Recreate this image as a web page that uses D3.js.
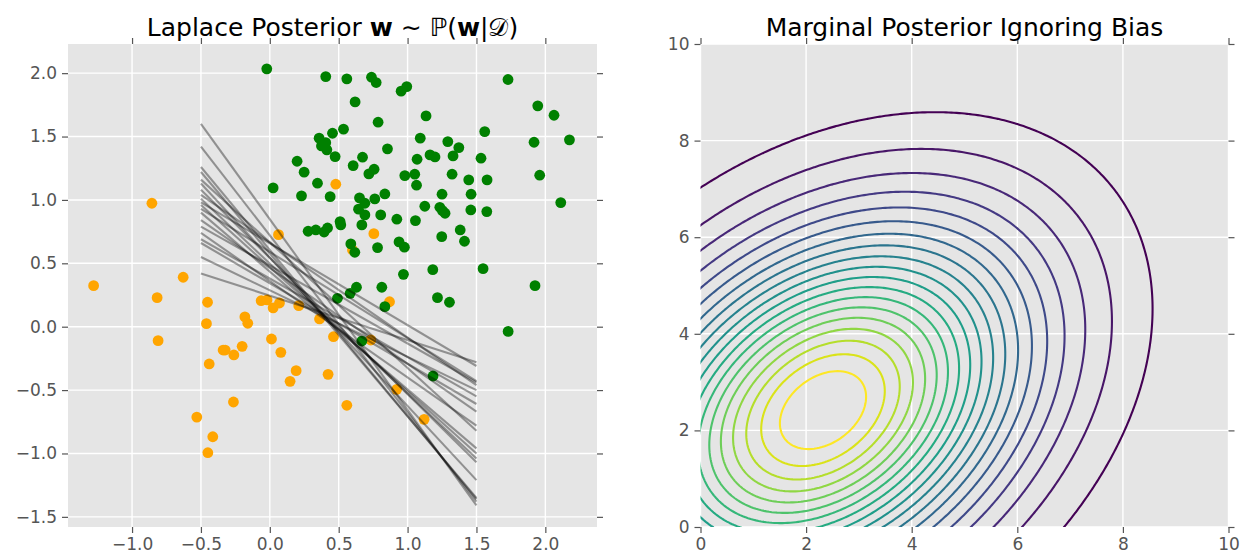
<!DOCTYPE html>
<html>
<head>
<meta charset="utf-8">
<script src="https://cdn.jsdelivr.net/npm/d3@7"></script>
<style>
body { margin: 0; background: #fff; }
text { font-family: "DejaVu Sans", sans-serif; }
</style>
</head>
<body>
<svg id="chart" width="1240" height="556"></svg>
<script>
// ---- data ----
var orangeX = [-1.279, -0.629, -0.818, -0.811, -0.452, -0.460, -0.063, -0.020, 0.070, 0.024,
               0.210, -0.181, -0.160, 0.361, 0.012, 0.462, -0.339, -0.324, -0.201, -0.261,
               0.080, -0.440, 0.191, 0.147, 0.423, -0.264, -0.530, -0.414, -0.450, 0.559,
               0.733, 0.869, 0.921, 1.120, -0.856, 0.063, 0.479, 0.755, 0.600];
var orangeY = [0.324, 0.390, 0.229, -0.110, 0.193, 0.024, 0.205, 0.211, 0.187, 0.148,
               0.166, 0.077, 0.027, 0.061, -0.097, -0.079, -0.184, -0.184, -0.155, -0.223,
               -0.202, -0.294, -0.347, -0.431, -0.376, -0.594, -0.713, -0.868, -0.994, -0.620,
               -0.105, 0.197, -0.494, -0.731, 0.974, 0.726, 1.124, 0.734, 0.605];

var greenX = [0.406, 0.559, 0.738, 0.772, 0.953, 0.994, 1.729, 0.619, 1.134, 1.945,
              2.063, 0.786, 0.535, 0.455, 0.358, 0.406, 0.375, 0.414, 0.474, 0.673,
              0.854, 1.092, 1.292, 1.372, 1.560, 2.175, 1.918, 1.163, 1.199, 1.330,
              1.069, 1.533, 0.605, 0.249, 0.757, 0.719, 0.980, 1.052, 1.323, 1.959,
              1.444, 1.577, 0.346, 1.065, 0.230, 0.438, 0.651, 0.690, 0.762, 0.835,
              1.250, 1.461, 2.112, 0.644, 0.690, 0.805, 1.125, 1.234, 1.253, 1.272,
              1.459, 1.575, 0.510, 0.515, 0.922, 1.057, 0.278, 0.334, 0.394, 0.419,
              0.668, 1.382, 1.248, 1.413, 0.588, 0.617, 0.782, 0.938, 0.977, 0.970,
              1.183, 1.548, 1.925, 0.629, 0.813, 0.583, 0.491, 1.217, 1.304, 0.835,
              1.730, 0.668, 1.185, -0.022, 0.198, 0.024];
var greenY = [1.973, 1.955, 1.968, 1.926, 1.858, 1.894, 1.950, 1.773, 1.663, 1.742,
              1.668, 1.613, 1.558, 1.526, 1.487, 1.452, 1.426, 1.395, 1.342, 1.337,
              1.403, 1.487, 1.460, 1.413, 1.539, 1.474, 1.455, 1.355, 1.339, 1.347,
              1.321, 1.329, 1.271, 1.219, 1.242, 1.205, 1.192, 1.203, 1.203, 1.195,
              1.158, 1.158, 1.132, 1.116, 1.032, 1.026, 1.016, 0.974, 1.008, 1.047,
              1.045, 1.045, 0.979, 0.927, 0.882, 0.882, 0.950, 0.942, 0.916, 0.895,
              0.921, 0.908, 0.829, 0.803, 0.848, 0.837, 0.753, 0.763, 0.747, 0.779,
              0.803, 0.763, 0.710, 0.674, 0.653, 0.587, 0.624, 0.669, 0.627, 0.413,
              0.450, 0.458, 0.324, 0.311, 0.311, 0.263, 0.224, 0.229, 0.193, 0.158,
              -0.037, -0.113, -0.389, 2.034, 1.305, 1.095];

// sampled decision boundaries, drawn from x = -0.5 to x = 1.5
var lineX = [-0.5, 1.5];
var lineStartY = [1.60, 1.42, 1.26, 1.22, 1.13, 1.16, 1.08, 1.04, 1.01, 0.98,
                  0.96, 0.93, 0.90, 0.84, 0.79, 0.74, 0.69, 0.66, 0.55, 0.42];
var lineEndY = [-1.41, -1.38, -1.36, -1.35, -1.21, -0.82, -1.07, -0.46, -1.04, -0.31,
                -1.00, -0.43, -0.96, -0.67, -0.44, -0.78, -0.55, -0.61, -0.50, -0.28];

var leftXTicks = [-1.0, -0.5, 0.0, 0.5, 1.0, 1.5, 2.0];
var leftYTicks = [-1.5, -1.0, -0.5, 0.0, 0.5, 1.0, 1.5, 2.0];
var rightTicks = [0, 2, 4, 6, 8, 10];

// marginal posterior over the two weights (Gaussian)
var postMean = [2.32, 2.42];
var postSd = [2.55, 2.52];
var postRho = 0.34;
// contour levels as fractions of the peak density
var contourLevels = [0.05, 0.10, 0.15, 0.20, 0.25, 0.30, 0.35, 0.40, 0.45, 0.50,
                     0.55, 0.60, 0.65, 0.70, 0.75, 0.80, 0.85, 0.90, 0.95];

// ---- layout ----
var svg = d3.select("#chart");
var plotTop = 44, plotBottom = 527;
var leftBox = {x0: 68, x1: 597};
var rightBox = {x0: 700.5, x1: 1228.5};

var xL = d3.scaleLinear().domain([-1.465, 2.375]).range([leftBox.x0, leftBox.x1]);
var yL = d3.scaleLinear().domain([-1.58, 2.23]).range([plotBottom, plotTop]);
var xR = d3.scaleLinear().domain([0, 10]).range([rightBox.x0, rightBox.x1]);
var yR = d3.scaleLinear().domain([0, 10]).range([plotBottom, plotTop]);

function panel(xs, ys, xt, yt, fmt, id) {
    var g = svg.append("g");
    var x0 = xs.range()[0], x1 = xs.range()[1];
    g.append("rect").attr("x", x0).attr("y", plotTop)
        .attr("width", x1 - x0).attr("height", plotBottom - plotTop)
        .attr("fill", "#E5E5E5");
    g.selectAll(".gx").data(xt).enter().append("line")
        .attr("x1", d => xs(d)).attr("x2", d => xs(d))
        .attr("y1", plotTop).attr("y2", plotBottom)
        .attr("stroke", "#fff").attr("stroke-width", 1.4);
    g.selectAll(".gy").data(yt).enter().append("line")
        .attr("y1", d => ys(d)).attr("y2", d => ys(d))
        .attr("x1", x0).attr("x2", x1)
        .attr("stroke", "#fff").attr("stroke-width", 1.4);

    svg.append("clipPath").attr("id", id)
        .append("rect").attr("x", x0).attr("y", plotTop)
        .attr("width", x1 - x0).attr("height", plotBottom - plotTop);

    var axes = [
        [d3.axisBottom(xs).tickValues(xt).tickFormat(fmt), "translate(0," + plotBottom + ")"],
        [d3.axisLeft(ys).tickValues(yt).tickFormat(fmt), "translate(" + x0 + ",0)"],
        [d3.axisTop(xs).tickValues(xt).tickFormat(""), "translate(0," + plotTop + ")"],
        [d3.axisRight(ys).tickValues(yt).tickFormat(""), "translate(" + x1 + ",0)"]
    ];
    axes.forEach(function (a) {
        var ax = svg.append("g").attr("transform", a[1])
            .call(a[0].tickSize(6).tickPadding(5));
        ax.select(".domain").remove();
        ax.selectAll("line").attr("stroke", "#555").attr("stroke-width", 1.2);
        ax.selectAll("text").attr("fill", "#555").style("font-size", "17px")
            .style("font-family", "DejaVu Sans, sans-serif");
    });
    return g;
}

// ---- left: data and boundaries ----
panel(xL, yL, leftXTicks, leftYTicks, d3.format(".1f"), "clipL");
var left = svg.append("g").attr("clip-path", "url(#clipL)");

left.selectAll(".orange").data(orangeX).enter().append("circle")
    .attr("cx", d => xL(d)).attr("cy", (d, i) => yL(orangeY[i]))
    .attr("r", 5.4).attr("fill", "orange");
left.selectAll(".green").data(greenX).enter().append("circle")
    .attr("cx", d => xL(d)).attr("cy", (d, i) => yL(greenY[i]))
    .attr("r", 5.4).attr("fill", "green");
left.selectAll(".bound").data(lineStartY).enter().append("line")
    .attr("x1", xL(lineX[0])).attr("x2", xL(lineX[1]))
    .attr("y1", d => yL(d)).attr("y2", (d, i) => yL(lineEndY[i]))
    .attr("stroke", "#000").attr("stroke-opacity", 0.37).attr("stroke-width", 2.1);

svg.append("text").attr("x", (leftBox.x0 + leftBox.x1) / 2).attr("y", 36)
    .attr("text-anchor", "middle").style("font-size", "25px").attr("fill", "#000")
    .call(function (t) {
        t.append("tspan").text("Laplace Posterior ");
        t.append("tspan").attr("font-weight", "bold").text("w");
        t.append("tspan").text(" \u223C \u2119(");
        t.append("tspan").attr("font-weight", "bold").text("w");
        t.append("tspan").text("|");
        t.append("tspan").text("\uD835\uDC9F");
        t.append("tspan").text(")");
    });

// ---- right: contour of the marginal posterior ----
panel(xR, yR, rightTicks, rightTicks, d3.format("d"), "clipR");
var right = svg.append("g").attr("clip-path", "url(#clipR)");

var g0 = -5, step = 0.05, n = Math.round(17 / step) + 1;
var values = new Array(n * n);
for (var j = 0; j < n; j++) {
    for (var i = 0; i < n; i++) {
        var zx = (g0 + i * step - postMean[0]) / postSd[0];
        var zy = (g0 + j * step - postMean[1]) / postSd[1];
        var q = (zx * zx - 2 * postRho * zx * zy + zy * zy) / (1 - postRho * postRho);
        values[j * n + i] = Math.exp(-q / 2);
    }
}
var contours = d3.contours().size([n, n]).thresholds(contourLevels)(values);
var proj = d3.geoTransform({
    point: function (px, py) {
        this.stream.point(xR(g0 + (px - 0.5) * step), yR(g0 + (py - 0.5) * step));
    }
});
var path = d3.geoPath(proj);
right.selectAll(".lvl").data(contours).enter().append("path")
    .attr("d", path)
    .attr("fill", "none")
    .attr("stroke", (d, k) => d3.interpolateViridis(k / (contourLevels.length - 1)))
    .attr("stroke-width", 2.1)
    .attr("stroke-linejoin", "round");

svg.append("text").attr("x", (rightBox.x0 + rightBox.x1) / 2).attr("y", 36)
    .attr("text-anchor", "middle").style("font-size", "25px").attr("fill", "#000")
    .text("Marginal Posterior Ignoring Bias");
</script>
</body>
</html>
